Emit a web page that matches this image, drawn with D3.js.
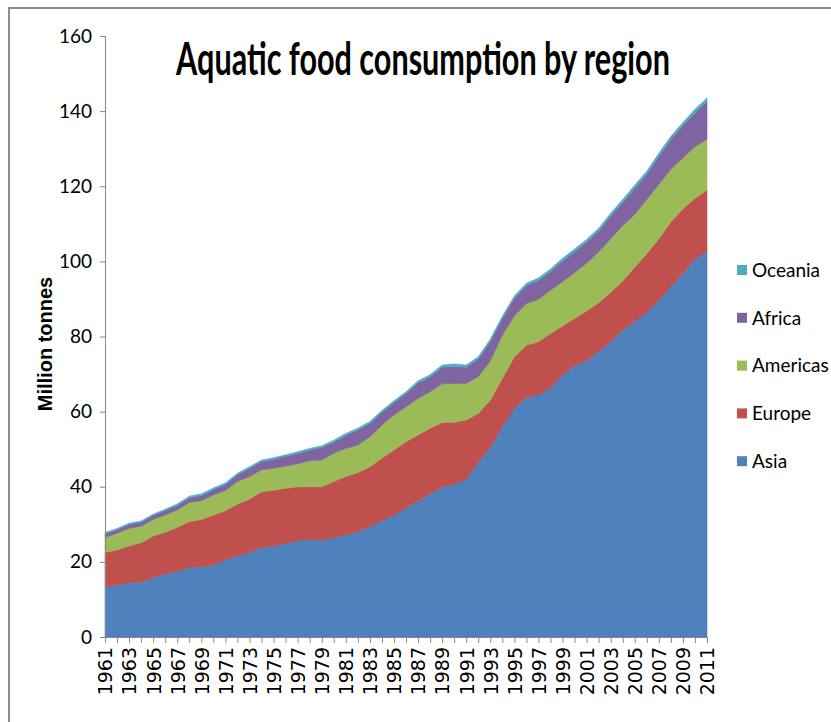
<!DOCTYPE html>
<html>
<head>
<meta charset="utf-8">
<script src="https://cdn.jsdelivr.net/npm/d3@7"></script>
<style>
  body { margin: 0; background: #fff; }
  svg { display: block; }
</style>
</head>
<body>
<svg id="chart" width="831" height="722"></svg>
<script>
// values (million tonnes)
const years = d3.range(1961, 2012);
const regions = ["Asia", "Europe", "Americas", "Africa", "Oceania"];
const legendOrder = ["Oceania", "Africa", "Americas", "Europe", "Asia"];

const asia = [13.4, 13.8, 14.5, 14.6, 15.9, 16.8, 17.5, 18.5, 18.7, 19.2,
  20.5, 21.6, 22.5, 23.8, 24.2, 24.9, 25.6, 26.1, 25.7, 26.5,
  27.2, 28.0, 29.4, 30.9, 32.5, 34.4, 36.2, 38.1, 40.0, 40.6,
  42.0, 46.5, 50.5, 56.0, 60.8, 63.8, 64.4, 66.2, 69.8, 72.2,
  73.6, 76.0, 78.6, 81.7, 84.0, 86.4, 89.7, 93.3, 96.8, 100.6, 102.6];
const europe = [9.1, 9.4, 9.7, 10.5, 11.0, 11.1, 11.7, 12.2, 12.6, 13.3,
  13.1, 13.8, 14.2, 14.9, 14.9, 14.7, 14.4, 13.9, 14.3, 14.9,
  15.5, 15.8, 15.9, 16.7, 17.3, 17.6, 17.6, 17.5, 17.1, 16.6,
  15.8, 13.0, 12.5, 12.8, 13.8, 13.9, 14.2, 14.6, 13.0, 12.6,
  13.2, 13.0, 13.2, 13.1, 14.5, 15.6, 16.3, 17.2, 17.2, 16.2, 16.4];
const americas = [4.0, 4.4, 4.7, 4.4, 4.4, 4.6, 4.6, 5.1, 5.0, 5.3,
  5.4, 6.0, 6.0, 5.8, 5.8, 5.9, 6.1, 6.9, 7.1, 7.5,
  7.5, 7.3, 8.0, 8.8, 9.3, 9.3, 9.7, 9.7, 10.3, 10.3,
  9.7, 9.8, 10.5, 11.5, 10.9, 11.1, 11.3, 11.5, 11.8, 12.2,
  12.7, 13.5, 14.2, 14.7, 14.0, 14.5, 14.5, 14.0, 13.5, 13.7, 13.5];
const africa = [1.0, 1.0, 1.1, 1.1, 1.1, 1.2, 1.2, 1.3, 1.4, 1.5,
  1.6, 1.8, 2.2, 2.2, 2.4, 2.6, 2.8, 2.9, 3.4, 3.0,
  3.5, 4.0, 3.6, 3.4, 3.3, 3.5, 4.2, 3.9, 4.4, 4.6,
  4.3, 4.7, 5.2, 4.5, 4.7, 4.8, 5.0, 5.0, 5.5, 5.6,
  5.6, 5.6, 6.1, 6.2, 7.0, 6.7, 7.5, 8.0, 8.7, 9.1, 10.1];
const oceania = [0.3, 0.3, 0.3, 0.3, 0.3, 0.3, 0.4, 0.4, 0.4, 0.4,
  0.4, 0.4, 0.4, 0.4, 0.4, 0.4, 0.4, 0.4, 0.4, 0.5,
  0.5, 0.5, 0.5, 0.5, 0.5, 0.5, 0.5, 0.6, 0.6, 0.6,
  0.6, 0.6, 0.6, 0.6, 0.6, 0.6, 0.7, 0.7, 0.7, 0.7,
  0.7, 0.7, 0.7, 0.8, 0.8, 0.8, 0.8, 0.8, 0.8, 0.9, 0.9];
const yTicks = [0, 20, 40, 60, 80, 100, 120, 140, 160];

const colors = {
  Asia: "#4f81bd",
  Europe: "#c0504d",
  Americas: "#9bbb59",
  Africa: "#8064a2",
  Oceania: "#4bacc6"
};

const table = years.map((yr, i) => ({
  year: yr,
  Asia: asia[i],
  Europe: europe[i],
  Americas: americas[i],
  Africa: africa[i],
  Oceania: oceania[i]
}));

const svg = d3.select("#chart");
const narrow = "Lato, 'Open Sans', sans-serif";

// outer chart frame
svg.append("path")
  .attr("d", "M9,730 L9,8 L840,8")
  .attr("fill", "none")
  .attr("stroke", "#8c8c8c")
  .attr("stroke-width", 2);

const x = d3.scaleLinear().domain([1961, 2011]).range([105, 707]);
const y = d3.scaleLinear().domain([0, 160]).range([637, 36]);

const stacked = d3.stack().keys(regions)(table);

const area = d3.area()
  .x(d => x(d.data.year))
  .y0(d => y(d[0]))
  .y1(d => y(d[1]));

svg.append("g").selectAll("path")
  .data(stacked)
  .enter().append("path")
  .attr("d", area)
  .attr("fill", d => colors[d.key])
  .attr("stroke", d => colors[d.key])
  .attr("stroke-width", 0.6);

// y axis
const yAxis = svg.append("g")
  .attr("transform", "translate(105,0)")
  .call(d3.axisLeft(y).tickValues(yTicks).tickSize(5).tickPadding(8));
yAxis.select(".domain").attr("stroke", "#868686");
yAxis.selectAll(".tick line").attr("stroke", "#868686");
yAxis.selectAll("text")
  .attr("font-family", narrow)
  .attr("font-size", 19)
  .attr("fill", "#000");

// x axis: tick every year, label every second year
const xAxis = svg.append("g")
  .attr("transform", "translate(0,637)")
  .call(d3.axisBottom(x).tickValues(years).tickSize(6)
    .tickFormat(d => (d - 1961) % 2 === 0 ? d : ""));
xAxis.select(".domain").attr("stroke", "#868686");
xAxis.selectAll(".tick line").attr("stroke", "#868686");
xAxis.selectAll("text")
  .attr("font-family", "'DejaVu Sans', sans-serif")
  .attr("font-size", 19)
  .attr("fill", "#000")
  .attr("transform", "rotate(-90)")
  .attr("text-anchor", "end")
  .attr("x", -10)
  .attr("y", 0)
  .attr("dy", "0.36em");

// axis title
svg.append("text")
  .attr("transform", "translate(52,344) rotate(-90)")
  .attr("text-anchor", "middle")
  .attr("font-family", "'Liberation Sans', Arial, sans-serif")
  .attr("font-weight", "bold")
  .attr("font-size", 20)
  .text("Million tonnes");

// chart title: taller font, squeezed sideways to the ~494px width of the original
const titleG = svg.append("g");
const title = titleG.append("text")
  .attr("x", 0)
  .attr("y", 0)
  .attr("text-anchor", "middle")
  .attr("font-family", narrow)
  .attr("font-weight", "bold")
  .attr("font-size", 45)
  .text("Aquatic food consumption by region");
const tw = title.node().getComputedTextLength();
const sx = tw > 0 ? Math.min(1, 494 / tw) : 1;
titleG.attr("transform", "translate(423,75) scale(" + sx + ",1)");

// legend
const legend = svg.append("g").selectAll("g")
  .data(legendOrder)
  .enter().append("g")
  .attr("transform", (d, i) => "translate(737," + (270 + i * 47.8) + ")");
legend.append("rect")
  .attr("x", 0).attr("y", -5)
  .attr("width", 10).attr("height", 10)
  .attr("fill", d => colors[d]);
legend.append("text")
  .attr("x", 15)
  .attr("y", 0)
  .attr("dy", "0.36em")
  .attr("font-family", narrow)
  .attr("font-size", 19)
  .text(d => d);
</script>
</body>
</html>
